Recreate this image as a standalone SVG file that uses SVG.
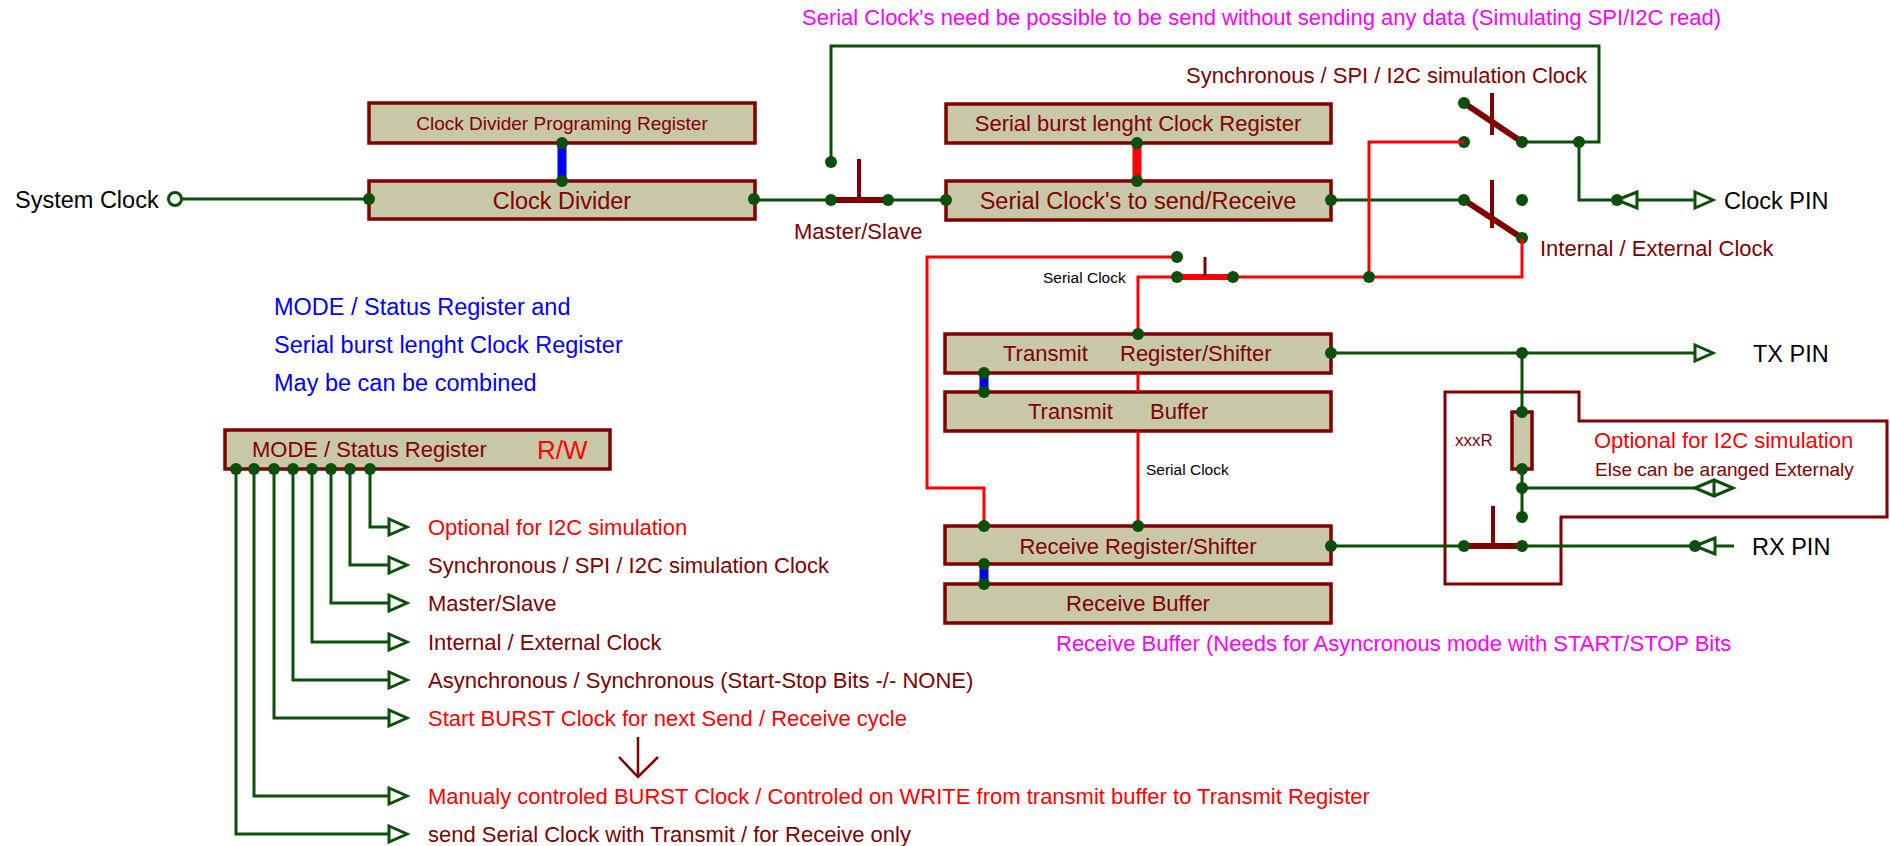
<svg xmlns="http://www.w3.org/2000/svg" xmlns:xlink="http://www.w3.org/1999/xlink" width="1890" height="846" viewBox="0 0 1890 846">
<style>
.blk{fill:#c8c8a9;stroke:#800000;stroke-width:3.5}
.w{fill:none;stroke:#0b4f0b;stroke-width:3}
.r{fill:none;stroke:#ff0000;stroke-width:3}
.rb{fill:none;stroke:#ff0000;stroke-width:9}
.bb{fill:none;stroke:#0000ff;stroke-width:9}
.lev{fill:none;stroke:#800000;stroke-width:6}
.tick{fill:none;stroke:#800000;stroke-width:4}
.box{fill:none;stroke:#800000;stroke-width:3}
.ar{fill:#ffffff;stroke:#0b4f0b;stroke-width:3;stroke-linejoin:miter}
.d{fill:#0b4f0b}
text{font-family:"Liberation Sans",Arial,sans-serif}
.dr{fill:#800000}
.rd{fill:#ff0000}
.mg{fill:#ff00ff}
.bl{fill:#0000ff}
.k{fill:#000000}
.c{text-anchor:middle}
</style>
<defs>
<path id="arrR" class="ar" d="M0,-8 L18,0 L0,8 Z"/>
<path id="arrL" class="ar" d="M0,0 L20,-8 L20,8 Z"/>
<circle id="dt" class="d" r="6"/>
</defs>
<rect width="1890" height="846" fill="#ffffff"/>

<!-- nodes -->
<g id="system-clock"><text class="k" x="15" y="207.5" font-size="23.5">System Clock</text></g>
<g id="clock-divider-prog"><rect class="blk" x="369" y="103" width="386" height="40"/><text class="dr c" x="562" y="130" font-size="19">Clock Divider Programing Register</text></g>
<g id="clock-divider"><rect class="blk" x="369" y="181" width="386" height="38"/><text class="dr c" x="562" y="208.5" font-size="23.5">Clock Divider</text></g>
<g id="master-slave-switch"><text class="dr" x="794" y="239" font-size="22">Master/Slave</text></g>
<g id="serial-burst-reg"><rect class="blk" x="946" y="104" width="385" height="39"/><text class="dr c" x="1138" y="131" font-size="22">Serial burst lenght Clock Register</text></g>
<g id="serial-clocks"><rect class="blk" x="946" y="181" width="385" height="39"/><text class="dr c" x="1138" y="208.5" font-size="23.5">Serial Clock's to send/Receive</text></g>
<g id="sync-switch"><text class="dr" x="1186" y="83" font-size="22">Synchronous / SPI / I2C simulation Clock</text></g>
<g id="int-ext-switch"><text class="dr" x="1540" y="256" font-size="22">Internal / External Clock</text></g>
<g id="clock-pin"><text class="k" x="1724" y="208.5" font-size="23.5">Clock PIN</text></g>
<g id="serial-clock-switch"><text class="k" x="1043" y="282.5" font-size="15.5">Serial Clock</text></g>
<g id="serial-clock-label"><text class="k" x="1146" y="474.5" font-size="15.5">Serial Clock</text></g>
<g id="transmit-reg"><rect class="blk" x="945" y="334" width="386" height="39"/><text class="dr" x="1003" y="361" font-size="22">Transmit</text><text class="dr" x="1120" y="361" font-size="22">Register/Shifter</text></g>
<g id="transmit-buf"><rect class="blk" x="945" y="392" width="386" height="39"/><text class="dr" x="1028" y="419" font-size="22">Transmit</text><text class="dr" x="1150" y="419" font-size="22">Buffer</text></g>
<g id="receive-reg"><rect class="blk" x="945" y="526" width="386" height="38"/><text class="dr c" x="1138" y="554" font-size="22">Receive Register/Shifter</text></g>
<g id="receive-buf"><rect class="blk" x="945" y="584" width="386" height="39"/><text class="dr c" x="1138" y="611" font-size="22">Receive Buffer</text></g>
<g id="receive-note"><text class="mg" x="1056" y="651" font-size="22">Receive Buffer (Needs for Asyncronous mode with START/STOP Bits</text></g>
<g id="top-note"><text class="mg" x="802" y="25" font-size="22">Serial Clock's need be possible to be send without sending any data (Simulating SPI/I2C read)</text></g>
<g id="tx-pin"><text class="k" x="1753" y="361.5" font-size="23.5">TX PIN</text></g>
<g id="rx-pin"><text class="k" x="1752" y="554.5" font-size="23.5">RX PIN</text></g>
<g id="i2c-option">
  <path class="box" d="M1445,392 H1579 V421 H1887 V517 H1561 V584 H1445 Z"/>
  <rect class="blk" x="1512" y="412" width="20" height="57"/>
  <text class="dr" x="1455" y="446" font-size="17">xxxR</text>
  <text class="rd" x="1594" y="448" font-size="22">Optional for I2C simulation</text>
  <text class="dr" x="1595" y="476" font-size="19">Else can be aranged Externaly</text>
</g>
<g id="blue-note">
  <text class="bl" x="274" y="314.5" font-size="23.5">MODE / Status Register and</text>
  <text class="bl" x="274" y="352.5" font-size="23.5">Serial burst lenght Clock Register</text>
  <text class="bl" x="274" y="390.5" font-size="23.5">May be can be combined</text>
</g>
<g id="mode-reg"><rect class="blk" x="225" y="430" width="385" height="39"/><text class="dr" x="252" y="457" font-size="22">MODE / Status Register</text><text class="rd" x="537" y="459" font-size="26">R/W</text></g>
<g id="mode-bits">
  <text class="rd" x="428" y="535" font-size="22">Optional for I2C simulation</text>
  <text class="dr" x="428" y="573" font-size="22">Synchronous / SPI / I2C simulation Clock</text>
  <text class="dr" x="428" y="611" font-size="22">Master/Slave</text>
  <text class="dr" x="428" y="650" font-size="22">Internal / External Clock</text>
  <text class="dr" x="428" y="688" font-size="22">Asynchronous / Synchronous (Start-Stop Bits -/- NONE)</text>
  <text class="rd" x="428" y="726" font-size="22">Start BURST Clock for next Send / Receive cycle</text>
  <text class="rd" x="428" y="804" font-size="22">Manualy controled BURST Clock / Controled on WRITE from transmit buffer to Transmit Register</text>
  <text class="dr" x="428" y="842" font-size="22">send Serial Clock with Transmit / for Receive only</text>
</g>

<!-- connectors -->
<g id="connectors">
  <!-- system clock in -->
  <circle cx="175" cy="199" r="6.5" fill="#ffffff" stroke="#0b4f0b" stroke-width="3"/>
  <path class="w" d="M182,199 H369"/>
  <path class="bb" d="M562,143 V181"/>
  <use href="#dt" x="562" y="143"/><use href="#dt" x="562" y="181"/>
  <use href="#dt" x="369" y="199"/><use href="#dt" x="754" y="199"/>
  <!-- master/slave switch -->
  <path class="w" d="M754,200 H831"/>
  <path class="lev" d="M831,200 H885"/>
  <path class="tick" d="M859,159 V200"/>
  <path class="w" d="M888,200 H946"/>
  <use href="#dt" x="831" y="200"/><use href="#dt" x="888" y="200"/><use href="#dt" x="946" y="200"/>
  <use href="#dt" x="831" y="162"/>
  <path class="w" d="M831,162 V46 H1599 V142 H1522"/>
  <use href="#dt" x="1579" y="142"/>
  <!-- burst register link -->
  <path class="rb" d="M1137,143 V181"/>
  <use href="#dt" x="1137" y="143"/><use href="#dt" x="1137" y="181"/>
  <!-- serial clock out to switches -->
  <path class="w" d="M1331,200 H1464"/>
  <use href="#dt" x="1331" y="200"/>
  <!-- upper switch -->
  <path class="lev" d="M1464,103 L1522,142"/>
  <path class="tick" d="M1492,93 V135"/>
  <use href="#dt" x="1464" y="103"/><use href="#dt" x="1464" y="142"/><use href="#dt" x="1522" y="142"/>
  <!-- lower switch -->
  <path class="lev" d="M1464,200 L1522,238"/>
  <path class="tick" d="M1492,180 V228"/>
  <use href="#dt" x="1464" y="200"/><use href="#dt" x="1522" y="200"/><use href="#dt" x="1522" y="238"/>
  <!-- clock pin -->
  <path class="w" d="M1579,142 V200 H1617"/>
  <path class="w" d="M1637,200 H1695"/>
  <use href="#arrL" x="1617" y="200"/>
  <use href="#arrR" x="1695" y="200"/>
  <use href="#dt" x="1617" y="200"/>
  <!-- red serial clock wiring -->
  <path class="r" d="M1464,142 H1369 V277"/>
  <path class="r" d="M1522,238 V277 H1233"/>
  <use href="#dt" x="1369" y="277"/>
  <path class="lev" d="M1177,277 H1233" style="stroke:#ff0000"/>
  <path class="tick" d="M1205,257 V277" style="stroke-width:3"/>
  <path class="r" d="M1177,277 H1138 V334"/>
  <path class="r" d="M1177,257 H927 V488 H984 V526"/>
  <path class="r" d="M1138,373 V392 M1138,431 V526"/>
  <use href="#dt" x="1177" y="257"/><use href="#dt" x="1177" y="277"/><use href="#dt" x="1233" y="277"/>
  <use href="#dt" x="1138" y="334"/><use href="#dt" x="984" y="526"/><use href="#dt" x="1138" y="526"/>
  <!-- blue buffer links -->
  <path class="bb" d="M984,373 V392"/>
  <use href="#dt" x="984" y="373"/><use href="#dt" x="984" y="392"/>
  <path class="bb" d="M984,564 V584"/>
  <use href="#dt" x="984" y="564"/><use href="#dt" x="984" y="584"/>
  <!-- TX -->
  <path class="w" d="M1331,353 H1695"/>
  <use href="#arrR" x="1695" y="353"/>
  <use href="#dt" x="1331" y="353"/><use href="#dt" x="1522" y="353"/>
  <path class="w" d="M1522,353 V412 M1522,469 V517"/>
  <use href="#dt" x="1522" y="412"/><use href="#dt" x="1522" y="469"/><use href="#dt" x="1522" y="488"/><use href="#dt" x="1522" y="517"/>
  <path class="w" d="M1522,488 H1695"/>
  <path class="ar" d="M1695,488 L1714,480 L1733,488 L1714,496 Z M1714,480 V496"/>
  <!-- RX -->
  <path class="w" d="M1331,546 H1464"/>
  <path class="lev" d="M1464,546 H1522"/>
  <path class="tick" d="M1493,506 V546"/>
  <path class="w" d="M1522,546 H1695 M1715,546 H1734"/>
  <use href="#arrL" x="1695" y="546"/>
  <use href="#dt" x="1331" y="546"/><use href="#dt" x="1464" y="546"/><use href="#dt" x="1522" y="546"/><use href="#dt" x="1695" y="546"/>
  <!-- mode register outputs -->
  <path class="w" d="M370,469 V527 H389 M350,469 V565 H389 M331,469 V603 H389 M312,469 V642 H389 M293,469 V680 H389 M274,469 V718 H389 M254,469 V796 H389 M236,469 V834 H389"/>
  <use href="#arrR" x="389" y="527"/><use href="#arrR" x="389" y="565"/><use href="#arrR" x="389" y="603"/><use href="#arrR" x="389" y="642"/>
  <use href="#arrR" x="389" y="680"/><use href="#arrR" x="389" y="718"/><use href="#arrR" x="389" y="796"/><use href="#arrR" x="389" y="834"/>
  <use href="#dt" x="236" y="469"/><use href="#dt" x="254" y="469"/><use href="#dt" x="274" y="469"/><use href="#dt" x="293" y="469"/>
  <use href="#dt" x="312" y="469"/><use href="#dt" x="331" y="469"/><use href="#dt" x="350" y="469"/><use href="#dt" x="370" y="469"/>
  <!-- down arrow -->
  <path d="M638,737 V777 M619,757 L638,777 L658,757" fill="none" stroke="#800000" stroke-width="2.5"/>
</g>
</svg>
